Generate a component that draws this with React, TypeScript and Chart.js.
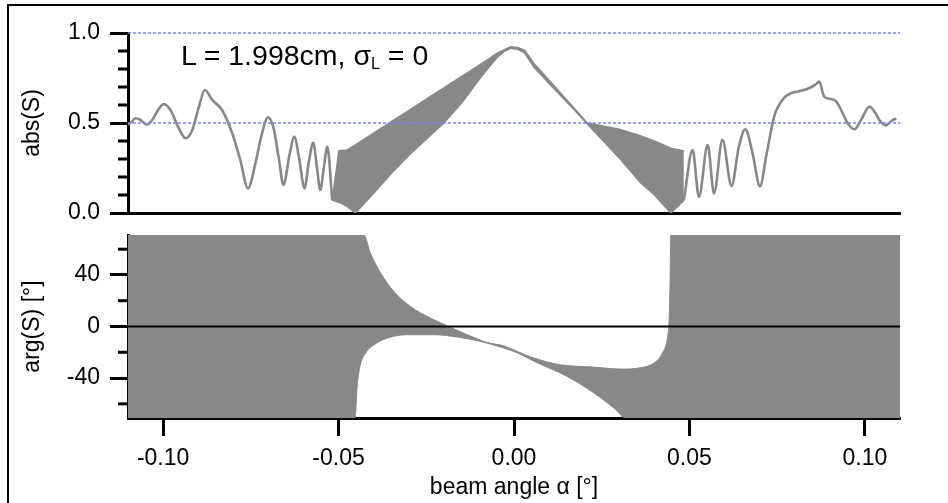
import React, { useEffect, useRef } from "react";
import { Chart, registerables } from "chart.js";

Chart.register(...registerables);

const FONT = "'Liberation Sans', Arial, Helvetica, sans-serif";
const GRAY = "#888888";
const REF_BLUE = "rgb(128,128,255)";

// beam angle range [°]
const X_MIN = -0.11;
const X_MAX = 0.11;
const X_MAJOR = [-0.1, -0.05, 0, 0.05, 0.1];

// abs(S) axis
const ABS_MAJOR = [0, 0.5, 1.0];
const ABS_MINOR = [0.1, 0.2, 0.3, 0.4, 0.6, 0.7, 0.8, 0.9];
const ABS_REF_LEVELS = [1.0, 0.5];

// abs(S): resolved trace on the left wing
const ABS_LEFT_X = [
  -0.11, -0.109, -0.1079, -0.1065, -0.1046, -0.1031, -0.1015, -0.0998, -0.0979,
  -0.0955, -0.0936, -0.0917, -0.0898, -0.0881, -0.086, -0.0832, -0.0803, -0.078,
  -0.0758, -0.0737, -0.0718, -0.0701, -0.0685, -0.067, -0.0657, -0.064, -0.0626,
  -0.0612, -0.0597, -0.0585, -0.0572, -0.0562, -0.0552, -0.0542, -0.0532, -0.0518,
];
const ABS_LEFT_Y = [
  0.49, 0.505, 0.526, 0.518, 0.49, 0.517, 0.57, 0.605, 0.572,
  0.47, 0.415, 0.46, 0.59, 0.683, 0.628, 0.572, 0.443, 0.294,
  0.137, 0.276, 0.443, 0.532, 0.47, 0.3, 0.156, 0.32, 0.424,
  0.3, 0.137, 0.28, 0.39, 0.26, 0.128, 0.25, 0.368, 0.07,
];

// abs(S): resolved trace on the right wing
const ABS_RIGHT_X = [
  0.0484, 0.0509, 0.0527, 0.0552, 0.057, 0.0594, 0.062, 0.064, 0.0659, 0.068,
  0.0701, 0.072, 0.0742, 0.077, 0.0789, 0.081, 0.0837, 0.086, 0.087, 0.0884,
  0.09, 0.0918, 0.0937, 0.0951, 0.097, 0.0989, 0.1013, 0.103, 0.1041, 0.106,
  0.1075, 0.1089,
];
const ABS_RIGHT_Y = [
  0.07, 0.35, 0.09, 0.378, 0.109, 0.406, 0.15, 0.36, 0.465, 0.33,
  0.148, 0.33, 0.54, 0.64, 0.665, 0.675, 0.69, 0.715, 0.73, 0.646,
  0.635, 0.62, 0.554, 0.498, 0.465, 0.517, 0.59, 0.555, 0.517, 0.487,
  0.51, 0.526,
];

// abs(S): fast oscillation in the central region, drawn as its envelope
const ABS_BAND_X = [
  -0.0518, -0.0499, -0.0475, -0.0452, -0.04, -0.035, -0.03, -0.025, -0.02,
  -0.015, -0.01, -0.0076, -0.005, -0.003, -0.001, 0.001, 0.003, 0.0057,
  0.01, 0.016, 0.0209, 0.025, 0.03, 0.036, 0.04, 0.0447, 0.0484,
];
const ABS_BAND_HI = [
  0.07, 0.346, 0.35, 0.379, 0.444, 0.507, 0.569, 0.632, 0.695,
  0.757, 0.82, 0.85, 0.885, 0.905, 0.924, 0.92, 0.905, 0.83,
  0.737, 0.607, 0.5, 0.485, 0.465, 0.43, 0.4, 0.36, 0.345,
];
const ABS_BAND_LO = [
  0.07, 0.06, 0.036, 0.0, 0.11, 0.22, 0.32, 0.41, 0.5,
  0.61, 0.74, 0.8, 0.86, 0.895, 0.915, 0.91, 0.89, 0.81,
  0.72, 0.597, 0.495, 0.41, 0.305, 0.17, 0.1, 0.0, 0.07,
];

// arg(S) axis
const ARG_MIN = -71;
const ARG_MAX = 71;
const ARG_MAJOR = [-40, 0, 40];
const ARG_MINOR = [-60, -20, 20, 60];

// arg(S): upper edge of the shaded (wrapped phase) region
const ARG_UP_X = [
  -0.11, -0.0428, -0.0409, -0.038, -0.0342, -0.0295, -0.0238, -0.019, -0.0133,
  -0.0076, -0.0029, 0.001, 0.0057, 0.0133, 0.0228, 0.0304, 0.0361, 0.0399,
  0.0423, 0.0438, 0.0442, 0.0445, 0.0447, 0.11,
];
const ARG_UP_Y = [
  71, 71, 56.9, 41.4, 27.1, 15.5, 6.5, 0.5, -6.4,
  -12.4, -15, -19.4, -24.5, -29.7, -31.5, -33, -32, -28.4,
  -20.6, -7.7, 5, 37.5, 71, 71,
];

// arg(S): lower edge of the shaded region
const ARG_LO_X = [
  -0.11, -0.0453, -0.0447, -0.0439, -0.0423, -0.0399, -0.0361, -0.0304, -0.0228,
  -0.0161, -0.0095, -0.0038, 0.001, 0.0057, 0.0152, 0.0228, 0.0285, 0.0319, 0.11,
];
const ARG_LO_Y = [
  -71, -71, -46.5, -31, -20.6, -14.2, -9, -6.4, -6.4,
  -8.2, -11.6, -16, -20.5, -27, -38.8, -51.6, -63.3, -71, -71,
];

const pts = (xs: number[], ys: number[]) => xs.map((x, i) => ({ x, y: ys[i] }));
const flat = (level: number) => [{ x: X_MIN, y: level }, { x: X_MAX, y: level }];

// short tick marks between the labelled ones on the y axis
const minorTicks = {
  id: "minorTicks",
  afterDraw(chart: any, _args: any, opts: any) {
    const scale = chart.scales.y;
    const ctx = chart.ctx;
    const x0 = chart.chartArea.left;
    ctx.save();
    ctx.strokeStyle = "#000";
    ctx.lineWidth = opts.width;
    for (const v of opts.values as number[]) {
      const y = scale.getPixelForValue(v);
      ctx.beginPath();
      ctx.moveTo(x0, y);
      ctx.lineTo(x0 - opts.length, y);
      ctx.stroke();
    }
    ctx.restore();
  },
};

const tickFont = { family: FONT, size: 23 };

// keep the plot frame where the layout padding puts it
const noScalePadding = (s: any) => {
  s.paddingTop = 0;
  s.paddingBottom = 0;
  s.paddingLeft = 0;
  s.paddingRight = 0;
};

function yAxis(min: number, max: number, major: number[], title: string, fmt: (v: number) => string) {
  return {
    type: "linear",
    min,
    max,
    afterBuildTicks: (s: any) => {
      s.ticks = major.map((v) => ({ value: v }));
    },
    afterFit: (s: any) => {
      s.width = 128;
      noScalePadding(s);
    },
    ticks: { font: tickFont, color: "#000", padding: 10, callback: (v: any) => fmt(Number(v)) },
    grid: { drawOnChartArea: false, drawTicks: true, tickLength: 18, tickWidth: 3, tickColor: "#000" },
    border: { color: "#000", width: 3 },
    title: { display: true, text: title, font: tickFont, color: "#000", padding: { top: 19, bottom: 0 } },
  };
}

export default function App() {
  const topRef = useRef<HTMLCanvasElement>(null);
  const botRef = useRef<HTMLCanvasElement>(null);

  useEffect(() => {
    Chart.defaults.font.family = FONT;

    const top = new Chart(topRef.current as HTMLCanvasElement, {
      type: "line",
      data: {
        datasets: [
          ...ABS_REF_LEVELS.map((lv) => ({
            data: flat(lv),
            borderColor: REF_BLUE,
            borderWidth: 1.5,
            borderDash: [3, 2],
            pointRadius: 0,
            fill: false,
            clip: 4,
          })),
          {
            data: pts(ABS_LEFT_X, ABS_LEFT_Y),
            borderColor: GRAY,
            borderWidth: 2.6,
            pointRadius: 0,
            cubicInterpolationMode: "monotone",
            fill: false,
          },
          {
            data: pts(ABS_RIGHT_X, ABS_RIGHT_Y),
            borderColor: GRAY,
            borderWidth: 2.6,
            pointRadius: 0,
            cubicInterpolationMode: "monotone",
            fill: false,
          },
          {
            data: pts(ABS_BAND_X, ABS_BAND_HI),
            borderColor: GRAY,
            borderWidth: 1.5,
            pointRadius: 0,
            fill: false,
          },
          {
            data: pts(ABS_BAND_X, ABS_BAND_LO),
            borderColor: GRAY,
            borderWidth: 1.5,
            pointRadius: 0,
            backgroundColor: GRAY,
            fill: "-1",
          },
        ],
      },
      options: {
        responsive: false,
        animation: false,
        events: [],
        layout: { padding: { top: 33, right: 48, bottom: 12, left: 0 } },
        plugins: {
          legend: { display: false },
          tooltip: { enabled: false },
          minorTicks: { values: ABS_MINOR, length: 10, width: 3 },
        } as any,
        scales: {
          x: {
            type: "linear",
            min: X_MIN,
            max: X_MAX,
            ticks: { display: false },
            grid: { display: true, drawOnChartArea: false, drawTicks: false },
            border: { color: "#000", width: 3 },
            afterFit: (s: any) => {
              s.height = 0;
              noScalePadding(s);
            },
          },
          y: yAxis(0, 1, ABS_MAJOR, "abs(S)", (v) => v.toFixed(1)),
        } as any,
      },
      plugins: [minorTicks],
    } as any);

    const bottom = new Chart(botRef.current as HTMLCanvasElement, {
      type: "line",
      data: {
        datasets: [
          {
            data: flat(0),
            borderColor: "#000",
            borderWidth: 2,
            pointRadius: 0,
            fill: false,
          },
          {
            data: pts(ARG_UP_X, ARG_UP_Y),
            borderColor: GRAY,
            borderWidth: 1,
            pointRadius: 0,
            cubicInterpolationMode: "monotone",
            fill: false,
          },
          {
            data: pts(ARG_LO_X, ARG_LO_Y),
            borderColor: GRAY,
            borderWidth: 1,
            pointRadius: 0,
            cubicInterpolationMode: "monotone",
            backgroundColor: GRAY,
            fill: "-1",
          },
        ],
      },
      options: {
        responsive: false,
        animation: false,
        events: [],
        layout: { padding: { top: 10, right: 48, bottom: 0, left: 0 } },
        plugins: {
          legend: { display: false },
          tooltip: { enabled: false },
          minorTicks: { values: ARG_MINOR, length: 10, width: 3 },
        } as any,
        scales: {
          x: {
            type: "linear",
            min: X_MIN,
            max: X_MAX,
            afterBuildTicks: (s: any) => {
              s.ticks = X_MAJOR.map((v) => ({ value: v }));
            },
            afterFit: (s: any) => {
              s.height = 85;
              noScalePadding(s);
            },
            ticks: {
              font: tickFont,
              color: "#000",
              padding: 9,
              maxRotation: 0,
              autoSkip: false,
              callback: (v: any) => Number(v).toFixed(2),
            },
            grid: { drawOnChartArea: false, drawTicks: true, tickLength: 18, tickWidth: 3, tickColor: "#000" },
            border: { color: "#000", width: 3 },
            title: {
              display: true,
              text: "beam angle α [°]",
              font: tickFont,
              color: "#000",
              padding: { top: 0, bottom: 2 },
            },
          },
          y: yAxis(ARG_MIN, ARG_MAX, ARG_MAJOR, "arg(S) [°]", (v) => String(Math.round(v))),
        } as any,
      },
      plugins: [minorTicks],
    } as any);

    return () => {
      top.destroy();
      bottom.destroy();
    };
  }, []);

  return (
    <div
      style={{
        position: "fixed",
        left: 0,
        top: 0,
        width: 948,
        height: 503,
        overflow: "hidden",
        background: "#fff",
      }}
    >
      <div
        style={{
          position: "absolute",
          left: 7,
          top: 4,
          width: 1100,
          height: 700,
          border: "2px solid #000",
        }}
      />
      <canvas
        ref={topRef}
        width={948}
        height={225}
        style={{ position: "absolute", left: 0, top: 0, width: 948, height: 225 }}
      />
      <canvas
        ref={botRef}
        width={948}
        height={278}
        style={{ position: "absolute", left: 0, top: 225, width: 948, height: 278 }}
      />
      <div
        style={{
          position: "absolute",
          left: 181,
          top: 41,
          fontFamily: FONT,
          fontSize: 28.5,
          lineHeight: "28px",
          color: "#000",
          whiteSpace: "nowrap",
        }}
      >
        L = 1.998cm, σ
        <sub style={{ fontSize: 16, lineHeight: 0, verticalAlign: -4 }}>L</sub> = 0
      </div>
    </div>
  );
}
